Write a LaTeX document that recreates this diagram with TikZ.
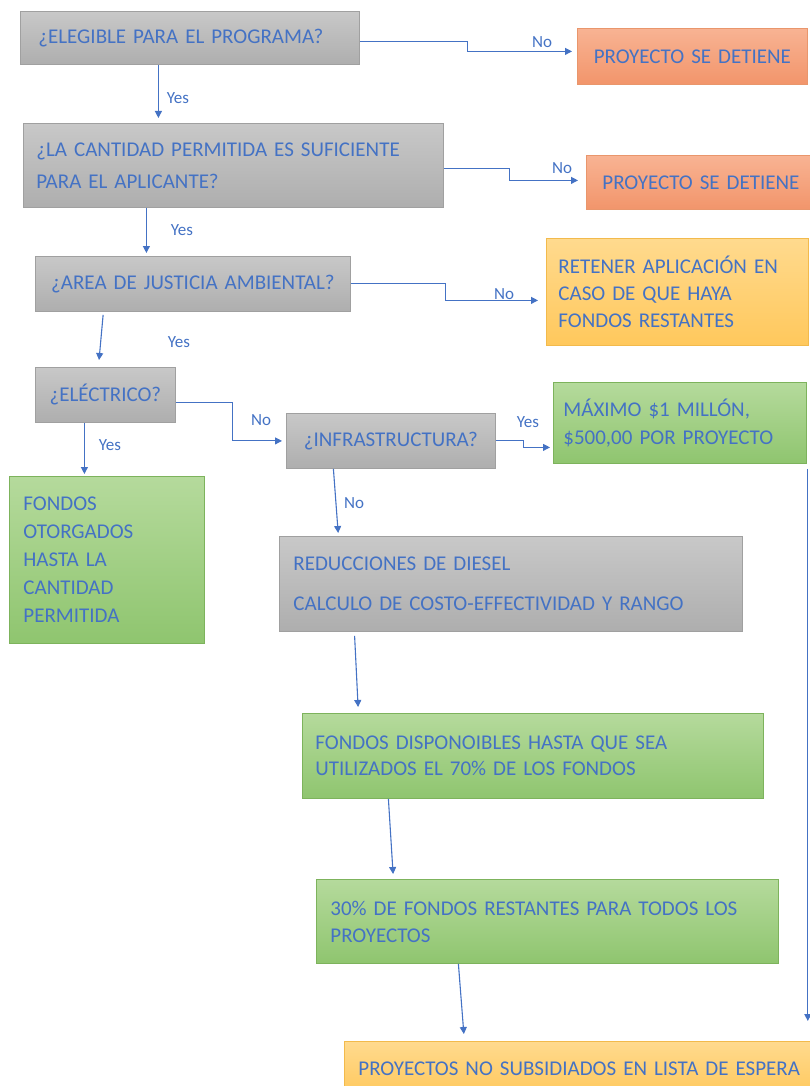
\documentclass[tikz,border=0pt]{standalone}
\usepackage{fontspec}
\setmainfont{Carlito}[WordSpace=0.8]
\usetikzlibrary{arrows.meta}

\definecolor{azul}{HTML}{4472C4}
\definecolor{gristop}{HTML}{C8C8C8}
\definecolor{grisbot}{HTML}{AEAEAE}
\definecolor{grisborde}{HTML}{A0A0A0}
\definecolor{narantop}{HTML}{F8B393}
\definecolor{naranbot}{HTML}{F2956B}
\definecolor{naranborde}{HTML}{E9966C}
\definecolor{amartop}{HTML}{FFDA8E}
\definecolor{amarbot}{HTML}{FFC85C}
\definecolor{amarborde}{HTML}{F2BA4C}
\definecolor{verdetop}{HTML}{B5DA9C}
\definecolor{verdebot}{HTML}{8FC56F}
\definecolor{verdeborde}{HTML}{7DB35C}

\tikzset{
  caja/.style={anchor=north west, inner ysep=0pt, align=left, text=azul,
    font=\fontsize{21}{27}\selectfont, line width=0.8pt},
  gris/.style={caja, draw=grisborde, top color=gristop, bottom color=grisbot},
  naranja/.style={caja, draw=naranborde, top color=narantop, bottom color=naranbot},
  amarillo/.style={caja, draw=amarborde, top color=amartop, bottom color=amarbot},
  verde/.style={caja, draw=verdeborde, top color=verdetop, bottom color=verdebot},
  flecha/.style={draw=azul, line width=1.1pt, shorten >=5pt,
    -{Triangle[length=7pt,width=7pt]}},
  etiq/.style={text=azul, font=\fontsize{17}{17}\selectfont, inner sep=0pt}
}

\begin{document}
\begin{tikzpicture}[x=1pt,y=-1pt]
  \useasboundingbox (0,0) rectangle (810,1086);
  \clip (0,0) rectangle (810,1086);

  % preguntas
  \node[gris, minimum width=339pt, minimum height=53pt, inner xsep=18pt, text width=303pt] (elegible) at (20,11) {¿ELEGIBLE PARA EL PROGRAMA?};
  \node[gris, minimum width=420pt, minimum height=84pt, inner xsep=13pt, text width=394pt,
    font=\fontsize{21}{32}\selectfont] (cantidad) at (23,123) {¿LA CANTIDAD PERMITIDA ES SUFICIENTE\\PARA EL APLICANTE?};
  \node[gris, minimum width=315pt, minimum height=55pt, inner xsep=8pt, text width=299pt, align=center] (justicia) at (35,256) {¿AREA DE JUSTICIA AMBIENTAL?};
  \node[gris, minimum width=140pt, minimum height=55pt, inner xsep=6pt, text width=128pt, align=center] (electrico) at (35,367) {¿ELÉCTRICO?};
  \node[gris, minimum width=209pt, minimum height=55pt, inner xsep=6pt, text width=197pt, align=center] (infra) at (286,413) {¿INFRASTRUCTURA?};

  % resultados
  \node[naranja, minimum width=230pt, minimum height=56pt, inner xsep=6pt, text width=218pt, align=center] (alto1) at (577,28) {PROYECTO SE DETIENE};
  \node[naranja, minimum width=240pt, minimum height=54pt, inner xsep=16pt, text width=208pt] (alto2) at (586,155) {PROYECTO SE DETIENE};
  \node[amarillo, minimum width=262pt, minimum height=107pt, inner xsep=12pt, text width=238pt] (retener) at (546,238) {RETENER APLICACIÓN EN\\CASO DE QUE HAYA\\FONDOS RESTANTES};
  \node[verde, minimum width=253pt, minimum height=81pt, inner xsep=10pt, text width=233pt,
    font=\fontsize{21}{28}\selectfont] (maximo) at (553,382) {MÁXIMO \$1 MILLÓN,\\\$500,00 POR PROYECTO};
  \node[verde, minimum width=195pt, minimum height=167pt, inner xsep=14pt, text width=167pt,
    font=\fontsize{21}{28}\selectfont] (otorgados) at (9,476) {FONDOS\\OTORGADOS\\HASTA LA\\CANTIDAD\\PERMITIDA};
  \node[gris, minimum width=463pt, minimum height=95pt, inner xsep=14pt, text width=435pt] (diesel) at (279,536) {REDUCCIONES DE DIESEL\\[13pt]CALCULO DE COSTO-EFFECTIVIDAD Y RANGO};
  \node[verde, minimum width=461pt, minimum height=85pt, inner xsep=13pt, text width=435pt,
    font=\fontsize{21}{26}\selectfont] (disponibles) at (302,713) {FONDOS DISPONOIBLES HASTA QUE SEA\\UTILIZADOS EL 70\% DE LOS FONDOS};
  \node[verde, minimum width=462pt, minimum height=84pt, inner xsep=14pt, text width=434pt] (restantes) at (316,879) {30\% DE FONDOS RESTANTES PARA TODOS LOS\\PROYECTOS};
  \node[amarillo, minimum width=490pt, minimum height=55pt, inner xsep=14pt, text width=462pt] (espera) at (344,1041) {PROYECTOS NO SUBSIDIADOS EN LISTA DE ESPERA};

  % conectores
  \draw[flecha] ([yshift=-4pt]elegible.east) -- ++(108,0) |- ([yshift=5pt]alto1.west);
  \draw[flecha] ([xshift=-31.5pt]elegible.south) -- ([xshift=-31.5pt]elegible.south |- cantidad.north);
  \draw[flecha, shorten >=8pt] ([yshift=-3pt]cantidad.east) -- ++(66,0) |- ([yshift=2pt]alto2.west);
  \draw[flecha, shorten >=3pt] ([xshift=-87pt]cantidad.south) -- ([xshift=-87pt]cantidad.south |- justicia.north);
  \draw[flecha, shorten >=8pt] (justicia.east) -- ++(95,0) |- ([yshift=-8.5pt]retener.west);
  \draw[flecha, shorten <=3pt, shorten >=7pt] ([xshift=-89.5pt]justicia.south) -- ([xshift=-7pt]electrico.north);
  \draw[flecha, shorten >=4pt] ([yshift=-7.5pt]electrico.east) -- ++(57,0) |- (infra.west);
  \draw[flecha, shorten >=3pt] (infra.east) -- ++(28,0) |- ([yshift=-24.5pt]maximo.west);
  \draw[flecha, shorten >=2pt] ([xshift=-21pt]electrico.south) -- ([xshift=-21pt]electrico.south |- otorgados.north);
  \draw[flecha, shorten >=3pt] ([xshift=-57.5pt]infra.south) -- ([xshift=-172.5pt]diesel.north);
  \draw[flecha, shorten <=4pt, shorten >=6pt] ([xshift=-156.5pt]diesel.south) -- ([xshift=-174.5pt]disponibles.north);
  \draw[flecha] ([xshift=-144.5pt]disponibles.south) -- ([xshift=-154pt]restantes.north);
  \draw[flecha, shorten >=7pt] ([xshift=-89pt]restantes.south) -- ([xshift=-125pt]espera.north);
  \draw[flecha, shorten <=5pt, shorten >=20pt] ([xshift=1pt]maximo.south east) -- ([xshift=1pt]maximo.south east |- espera.north);

  % etiquetas
  \node[etiq] (no1) at (542,42) {No};
  \node[etiq] (si1) at (178,98) {Yes};
  \node[etiq] (no2) at (562,168) {No};
  \node[etiq] (si2) at (182,230) {Yes};
  \node[etiq] (no3) at (504,294) {No};
  \node[etiq] (si3) at (179,342) {Yes};
  \node[etiq] (no4) at (261,420) {No};
  \node[etiq] (si4) at (528,422) {Yes};
  \node[etiq] (si5) at (110,445) {Yes};
  \node[etiq] (no5) at (354,503) {No};
\end{tikzpicture}
\end{document}
